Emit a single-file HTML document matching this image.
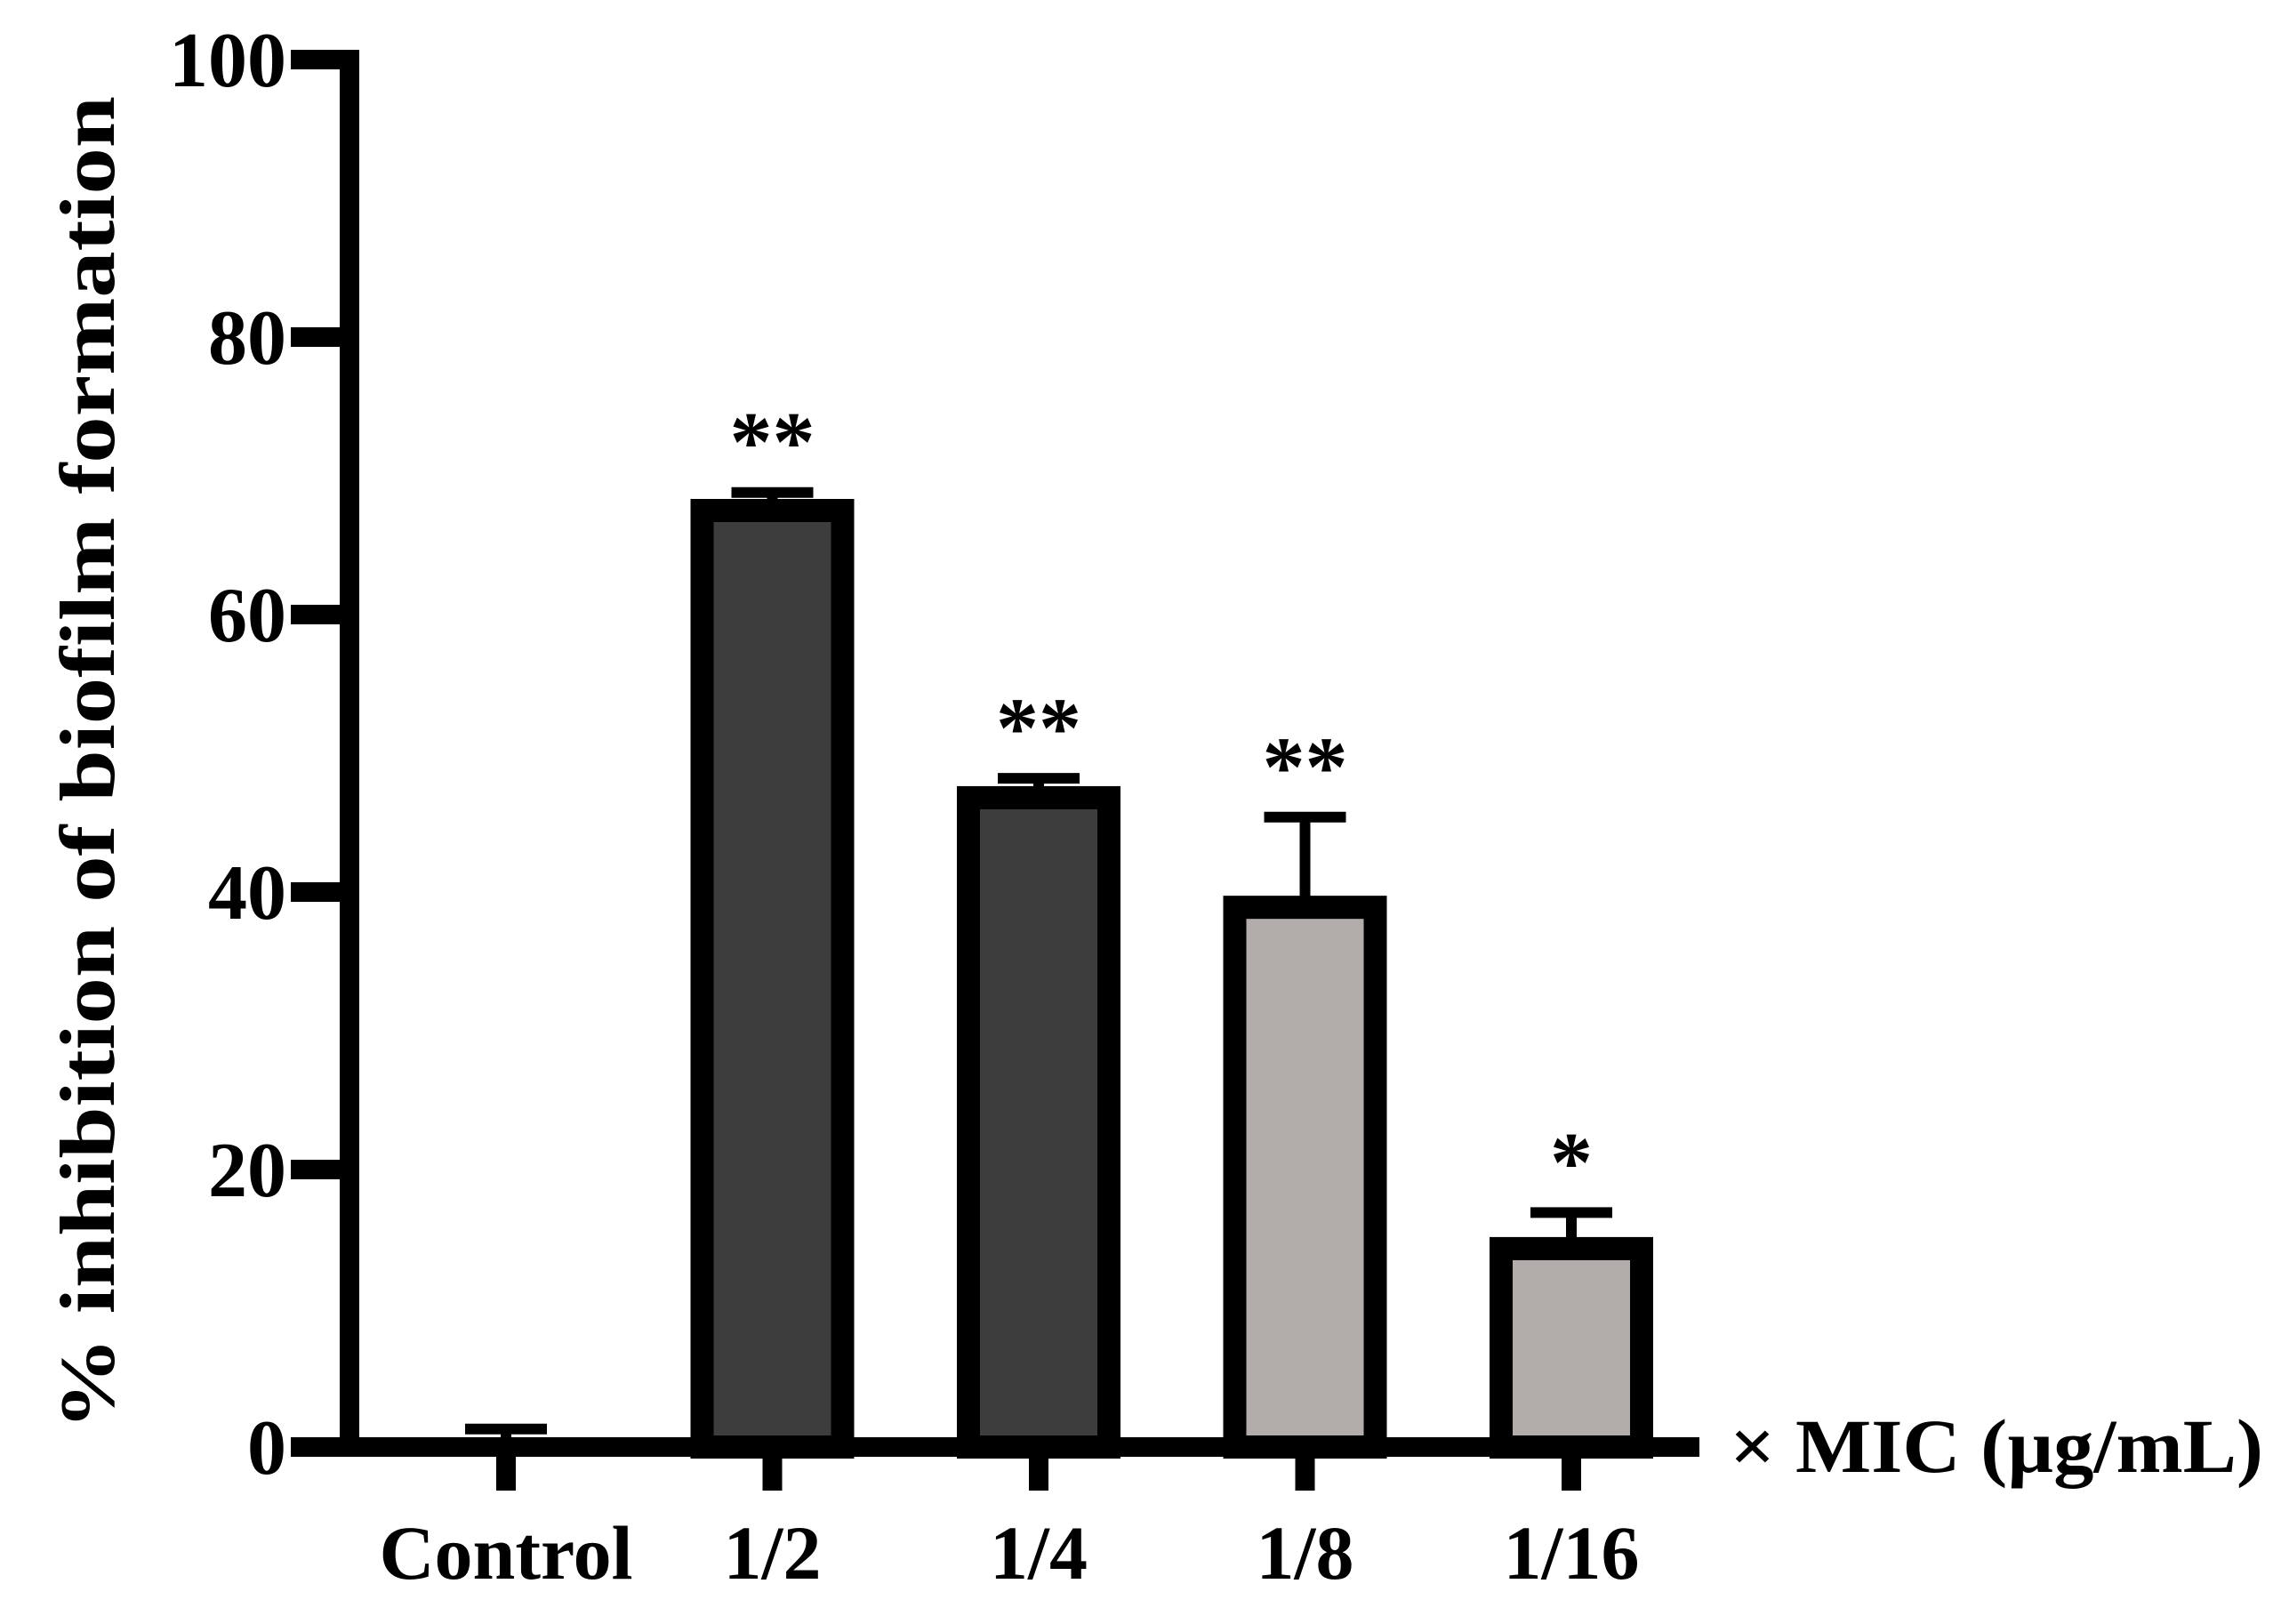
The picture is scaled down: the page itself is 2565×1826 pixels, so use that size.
<!DOCTYPE html>
<html><head><meta charset="utf-8"><style>
html,body{margin:0;padding:0;background:#fff;}
svg{display:block;font-family:"Liberation Serif",serif;font-weight:bold;}
</style></head><body>
<svg id="chart" width="2565" height="1826" viewBox="0 0 2565 1826">
<text x="0" y="0" transform="translate(128,858) rotate(-90)" text-anchor="middle" font-size="88" textLength="1500" lengthAdjust="spacingAndGlyphs">% inhibition of biofilm formation</text>
<text x="1945" y="1655" font-size="86" textLength="600" lengthAdjust="spacingAndGlyphs">× MIC (µg/mL)</text>
</svg>
<script>
const categories = ["Control","1/2","1/4","1/8","1/16"];
const values = [0, 67.5, 46.8, 38.9, 14.3];
const errors = [1.3, 1.3, 1.4, 6.5, 2.6];
const stars = ["", "**", "**", "**", "*"];
const fills = ["none","#3d3d3d","#3d3d3d","#b2adaa","#b2adaa"];
const yTicks = [0,20,40,60,80,100];

const svg = document.getElementById('chart');
const NS = 'http://www.w3.org/2000/svg';
const y0 = 1627, yTop = 67;
function yScale(v){ return y0 - (y0 - yTop) * v / 100; }
function xScale(i){ return 569 + 299.5 * i; }
function mk(tag, attrs){ const e = document.createElementNS(NS, tag); for (const k in attrs) e.setAttribute(k, attrs[k]); svg.appendChild(e); return e; }

categories.forEach((c,i)=>{
  const cx = xScale(i);
  if (values[i] > 0) {
    const top = yScale(values[i]);
    const r = mk('rect',{x:cx-79,y:top,width:158,height:y0-top,fill:fills[i],stroke:'#000','stroke-width':26});
    
    
  }
  const eTop = yScale(values[i] + errors[i]);
  const stem = mk('line',{x1:cx,x2:cx,y1:eTop,y2:yScale(values[i]),stroke:'#000','stroke-width':12});
  
  
  const cap = mk('line',{x1:cx-46,x2:cx+46,y1:eTop,y2:eTop,stroke:'#000','stroke-width':12});
  
  
  if (stars[i]) {
    const s = mk('text',{x:cx,y:eTop-24,'text-anchor':'middle','font-size':96});
    s.textContent = stars[i];
    
    
  }
  const t = mk('line',{x1:cx,x2:cx,y1:y0,y2:1676,stroke:'#000','stroke-width':22});
  
  
  const l = mk('text',{x:cx,y:1775,'text-anchor':'middle','font-size':86});
  l.textContent = c;
  
  
});

const ya = mk('line',{x1:393,x2:393,y1:56,y2:1638,stroke:'#000','stroke-width':22});


const xa = mk('line',{x1:327,x2:1911,y1:y0,y2:y0,stroke:'#000','stroke-width':22});


yTicks.forEach(v=>{
  const y = yScale(v);
  const t = mk('line',{x1:327,x2:395,y1:y,y2:y,stroke:'#000','stroke-width':22});
  
  
  const l = mk('text',{x:322,y:y+30,'text-anchor':'end','font-size':88});
  l.textContent = v;
  
  
});
</script>
</body></html>
